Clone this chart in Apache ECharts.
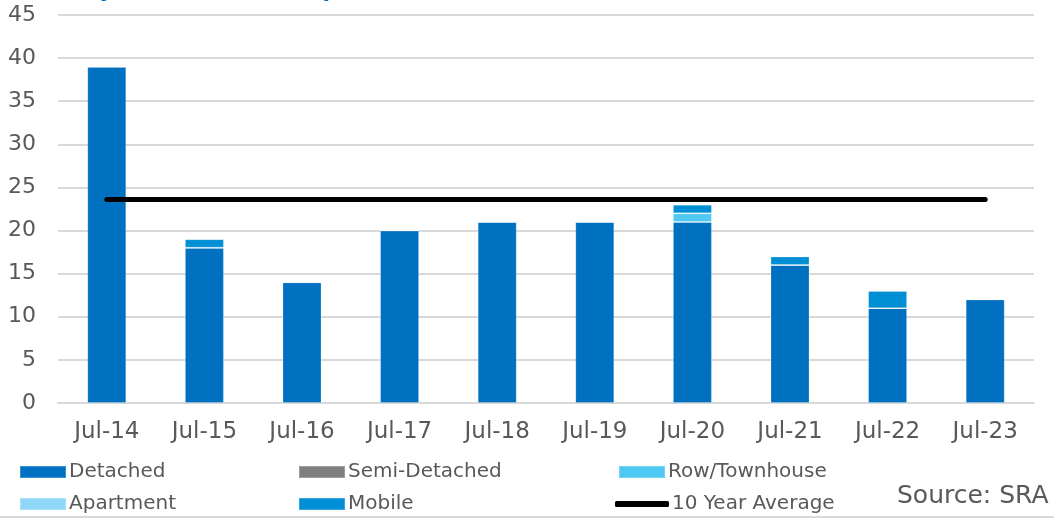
<!DOCTYPE html>
<html>
<head>
<meta charset="utf-8">
<title>Monthly Residential Completions</title>
<script src="https://cdn.jsdelivr.net/npm/echarts@6/dist/echarts.min.js"></script>
<style>
  html, body { margin: 0; padding: 0; background: #ffffff; }
  #chart { width: 1054px; height: 519px; }
</style>
</head>
<body>
<div id="chart"></div>
<script>
// Categories (July of each year)
const months = ['Jul-14', 'Jul-15', 'Jul-16', 'Jul-17', 'Jul-18', 'Jul-19', 'Jul-20', 'Jul-21', 'Jul-22', 'Jul-23'];

// Completions by dwelling type
const detached     = [39, 18, 14, 20, 21, 21, 21, 16, 11, 12];
const semiDetached = [0, 0, 0, 0, 0, 0, 0, 0, 0, 0];
const rowTownhouse = [0, 0, 0, 0, 0, 0, 1, 0, 0, 0];
const apartment    = [0, 0, 0, 0, 0, 0, 0, 0, 0, 0];
const mobile       = [0, 1, 0, 0, 0, 0, 1, 1, 2, 0];
const tenYearAvg   = [23.6, 23.6, 23.6, 23.6, 23.6, 23.6, 23.6, 23.6, 23.6, 23.6];

// Value axis range
const yMin = 0, yMax = 45, yStep = 5;

const FONT = 'DejaVu Sans';
const TEXT = '#595959';
const GRID = '#D9D9D9';

const colors = {
  'Detached': '#0070C0',
  'Semi-Detached': '#808080',
  'Row/Townhouse': '#4FC8F4',
  'Apartment': '#8DD8F8',
  'Mobile': '#008FD5'
};

function barSeries(name, data) {
  return {
    name: name,
    type: 'bar',
    stack: 'total',
    data: data,
    barWidth: 39,
    itemStyle: { color: colors[name], borderColor: 'rgba(255,255,255,0.22)', borderWidth: 1 },
    emphasis: { disabled: true }
  };
}

// One legend per entry so the three columns line up
function legendItem(name, left, top, opts) {
  return Object.assign({
    data: [name],
    left: left,
    top: top,
    padding: 0,
    icon: 'rect',
    itemWidth: 46,
    itemHeight: 12,
    itemGap: 0,
    selectedMode: false,
    textStyle: { fontFamily: FONT, fontSize: 20, color: TEXT, padding: [0, 0, 0, -2] }
  }, opts || {});
}

const chart = echarts.init(document.getElementById('chart'), null, { renderer: 'canvas' });

chart.setOption({
  animation: false,
  backgroundColor: '#ffffff',
  grid: { left: 58, right: 20, top: 15, bottom: 116, containLabel: false },
  xAxis: {
    type: 'category',
    data: months,
    axisLine: { lineStyle: { color: GRID, width: 2 } },
    axisTick: { show: false },
    axisLabel: { fontFamily: FONT, fontSize: 23, color: TEXT, margin: 18 }
  },
  yAxis: {
    type: 'value',
    min: yMin,
    max: yMax,
    interval: yStep,
    axisLine: { show: false },
    axisTick: { show: false },
    splitLine: { lineStyle: { color: GRID, width: 2 } },
    axisLabel: { fontFamily: FONT, fontSize: 22, color: TEXT, margin: 22 }
  },
  legend: [
    legendItem('Detached', 19, 462),
    legendItem('Semi-Detached', 298, 462),
    legendItem('Row/Townhouse', 618, 462),
    legendItem('Apartment', 19, 494),
    legendItem('Mobile', 298, 494),
    legendItem('10 Year Average', 615, 494, { icon: 'roundRect', itemWidth: 54, itemHeight: 6 })
  ],
  series: [
    barSeries('Detached', detached),
    barSeries('Semi-Detached', semiDetached),
    barSeries('Row/Townhouse', rowTownhouse),
    barSeries('Apartment', apartment),
    barSeries('Mobile', mobile),
    {
      name: '10 Year Average',
      type: 'line',
      data: tenYearAvg,
      symbol: 'none',
      itemStyle: { color: '#000000' },
      lineStyle: { color: '#000000', width: 5, cap: 'round' },
      emphasis: { disabled: true },
      z: 5
    }
  ],
  graphic: [
    {
      type: 'text',
      left: 13,
      top: -20,
      style: { text: 'Monthly Residential Completions', font: 'bold 22px "DejaVu Sans"', fill: '#0070C0' }
    },
    {
      type: 'text',
      left: 897,
      top: 484,
      style: { text: 'Source: SRA', font: '25px "DejaVu Sans"', fill: TEXT }
    },
    {
      type: 'rect',
      shape: { x: 0, y: 516, width: 1054, height: 2 },
      style: { fill: GRID }
    }
  ]
});
</script>
</body>
</html>
